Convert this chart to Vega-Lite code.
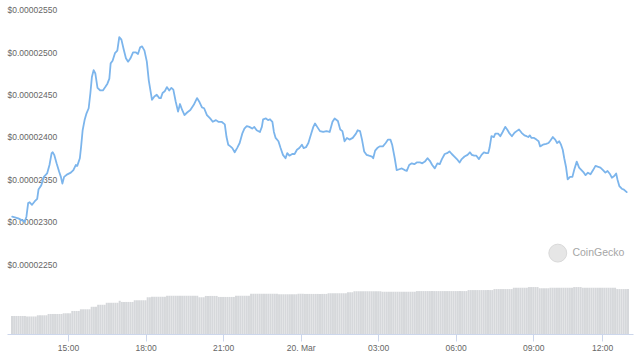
{
  "$schema": "https://vega.github.io/schema/vega-lite/v6.json",
  "width": 626,
  "height": 334,
  "autosize": "none",
  "padding": {"left": 7, "right": 7, "top": 0, "bottom": 26},
  "background": "#ffffff",
  "config": {
    "view": {"stroke": null},
    "font": "Liberation Sans",
    "axisX": {
      "title": null,
      "grid": false,
      "domainColor": "#ccd6eb",
      "tickColor": "#ccd6eb",
      "tickSize": 7,
      "labelPadding": 2,
      "labelFontSize": 8.5,
      "labelFont": "Liberation Sans",
      "labelColor": "#666666",
      "labelFlush": false,
      "labelOverlap": false
    },
    "axisY": {
      "title": null,
      "domain": false,
      "ticks": false,
      "tickSize": 0,
      "labelAlign": "left",
      "labelBaseline": "alphabetic",
      "labelPadding": 0,
      "labelOffset": -3,
      "labelFontSize": 8.5,
      "labelFont": "Liberation Sans",
      "labelColor": "#666666",
      "labelOverlap": false,
      "gridColor": "#ebebeb",
      "gridWidth": 1
    }
  },
  "datasets": {
    "vol": [
      {"n":0,"v":10.8},{"n":1,"v":10.8},{"n":2,"v":10.8},{"n":3,"v":10.8},{"n":4,"v":10.8},{"n":5,"v":10.8},{"n":6,"v":10.8},
      {"n":7,"v":10.5},{"n":8,"v":10.5},{"n":9,"v":10.5},{"n":10,"v":10.5},{"n":11,"v":10.5},
      {"n":12,"v":11.2},{"n":13,"v":11.2},{"n":14,"v":11.2},{"n":15,"v":11.2},{"n":16,"v":11.2},
      {"n":17,"v":12.0},{"n":18,"v":12.0},{"n":19,"v":12.0},{"n":20,"v":12.0},{"n":21,"v":12.0},{"n":22,"v":12.0},{"n":23,"v":12.0},
      {"n":24,"v":12.4},{"n":25,"v":12.4},{"n":26,"v":12.4},{"n":27,"v":12.4},
      {"n":28,"v":13.8},{"n":29,"v":13.8},{"n":30,"v":13.8},{"n":31,"v":13.8},
      {"n":32,"v":14.8},{"n":33,"v":14.8},{"n":34,"v":14.8},{"n":35,"v":14.8},{"n":36,"v":14.8},
      {"n":37,"v":16.3},{"n":38,"v":16.3},{"n":39,"v":16.3},
      {"n":40,"v":17.5},{"n":41,"v":17.5},{"n":42,"v":17.5},{"n":43,"v":17.5},
      {"n":44,"v":18.7},{"n":45,"v":18.7},{"n":46,"v":18.7},{"n":47,"v":18.7},{"n":48,"v":18.7},{"n":49,"v":18.7},
      {"n":50,"v":19.9},
      {"n":51,"v":19.2},{"n":52,"v":19.2},{"n":53,"v":19.2},{"n":54,"v":19.2},{"n":55,"v":19.2},{"n":56,"v":19.2},
      {"n":57,"v":20.2},{"n":58,"v":20.2},{"n":59,"v":20.2},{"n":60,"v":20.2},{"n":61,"v":20.2},{"n":62,"v":20.2},
      {"n":63,"v":22.0},{"n":64,"v":22.0},
      {"n":65,"v":22.3},{"n":66,"v":22.3},{"n":67,"v":22.3},{"n":68,"v":22.3},{"n":69,"v":22.3},{"n":70,"v":22.3},{"n":71,"v":22.3},
      {"n":72,"v":22.9},{"n":73,"v":22.9},{"n":74,"v":22.9},{"n":75,"v":22.9},{"n":76,"v":22.9},{"n":77,"v":22.9},{"n":78,"v":22.9},{"n":79,"v":22.9},{"n":80,"v":22.9},{"n":81,"v":22.9},{"n":82,"v":22.9},{"n":83,"v":22.9},{"n":84,"v":22.9},{"n":85,"v":22.9},{"n":86,"v":22.9},
      {"n":87,"v":22.0},{"n":88,"v":22.0},{"n":89,"v":22.0},
      {"n":90,"v":22.8},{"n":91,"v":22.8},{"n":92,"v":22.8},{"n":93,"v":22.8},{"n":94,"v":22.8},{"n":95,"v":22.8},
      {"n":96,"v":22.2},{"n":97,"v":22.2},{"n":98,"v":22.2},{"n":99,"v":22.2},{"n":100,"v":22.2},{"n":101,"v":22.2},{"n":102,"v":22.2},{"n":103,"v":22.2},
      {"n":104,"v":22.9},{"n":105,"v":22.9},{"n":106,"v":22.9},{"n":107,"v":22.9},{"n":108,"v":22.9},{"n":109,"v":22.9},{"n":110,"v":22.9},
      {"n":111,"v":24.1},{"n":112,"v":24.1},{"n":113,"v":24.1},{"n":114,"v":24.1},{"n":115,"v":24.1},{"n":116,"v":24.1},{"n":117,"v":24.1},{"n":118,"v":24.1},{"n":119,"v":24.1},{"n":120,"v":24.1},{"n":121,"v":24.1},{"n":122,"v":24.1},{"n":123,"v":24.1},
      {"n":124,"v":23.8},{"n":125,"v":23.8},{"n":126,"v":23.8},{"n":127,"v":23.8},{"n":128,"v":23.8},{"n":129,"v":23.8},{"n":130,"v":23.8},{"n":131,"v":23.8},{"n":132,"v":23.8},
      {"n":133,"v":24.1},{"n":134,"v":24.1},{"n":135,"v":24.1},
      {"n":136,"v":24.0},{"n":137,"v":24.0},{"n":138,"v":24.0},{"n":139,"v":24.0},{"n":140,"v":24.0},{"n":141,"v":24.0},{"n":142,"v":24.0},{"n":143,"v":24.0},{"n":144,"v":24.0},{"n":145,"v":24.0},{"n":146,"v":24.0},
      {"n":147,"v":24.4},{"n":148,"v":24.4},{"n":149,"v":24.4},{"n":150,"v":24.4},{"n":151,"v":24.4},{"n":152,"v":24.4},{"n":153,"v":24.4},{"n":154,"v":24.4},{"n":155,"v":24.4},
      {"n":156,"v":25.0},{"n":157,"v":25.0},{"n":158,"v":25.0},
      {"n":159,"v":25.6},{"n":160,"v":25.6},{"n":161,"v":25.6},{"n":162,"v":25.6},{"n":163,"v":25.6},{"n":164,"v":25.6},{"n":165,"v":25.6},{"n":166,"v":25.6},{"n":167,"v":25.6},{"n":168,"v":25.6},{"n":169,"v":25.6},{"n":170,"v":25.6},{"n":171,"v":25.6},
      {"n":172,"v":25.3},{"n":173,"v":25.3},{"n":174,"v":25.3},{"n":175,"v":25.3},{"n":176,"v":25.3},{"n":177,"v":25.3},{"n":178,"v":25.3},{"n":179,"v":25.3},{"n":180,"v":25.3},{"n":181,"v":25.3},{"n":182,"v":25.3},{"n":183,"v":25.3},{"n":184,"v":25.3},{"n":185,"v":25.3},{"n":186,"v":25.3},{"n":187,"v":25.3},
      {"n":188,"v":25.7},{"n":189,"v":25.7},{"n":190,"v":25.7},{"n":191,"v":25.7},{"n":192,"v":25.7},{"n":193,"v":25.7},{"n":194,"v":25.7},{"n":195,"v":25.7},{"n":196,"v":25.7},{"n":197,"v":25.7},{"n":198,"v":25.7},{"n":199,"v":25.7},{"n":200,"v":25.7},{"n":201,"v":25.7},{"n":202,"v":25.7},{"n":203,"v":25.7},{"n":204,"v":25.7},{"n":205,"v":25.7},{"n":206,"v":25.7},{"n":207,"v":25.7},{"n":208,"v":25.7},{"n":209,"v":25.7},{"n":210,"v":25.7},{"n":211,"v":25.7},
      {"n":212,"v":26.3},{"n":213,"v":26.3},{"n":214,"v":26.3},{"n":215,"v":26.3},{"n":216,"v":26.3},{"n":217,"v":26.3},{"n":218,"v":26.3},{"n":219,"v":26.3},{"n":220,"v":26.3},{"n":221,"v":26.3},{"n":222,"v":26.3},{"n":223,"v":26.3},
      {"n":224,"v":26.9},{"n":225,"v":26.9},{"n":226,"v":26.9},{"n":227,"v":26.9},{"n":228,"v":26.9},{"n":229,"v":26.9},{"n":230,"v":26.9},{"n":231,"v":26.9},{"n":232,"v":26.9},
      {"n":233,"v":27.7},{"n":234,"v":27.7},{"n":235,"v":27.7},{"n":236,"v":27.7},{"n":237,"v":27.7},{"n":238,"v":27.7},{"n":239,"v":27.7},
      {"n":240,"v":28.1},{"n":241,"v":28.1},{"n":242,"v":28.1},{"n":243,"v":28.1},{"n":244,"v":28.1},
      {"n":245,"v":27.4},{"n":246,"v":27.4},{"n":247,"v":27.4},{"n":248,"v":27.4},{"n":249,"v":27.4},
      {"n":250,"v":27.7},{"n":251,"v":27.7},{"n":252,"v":27.7},{"n":253,"v":27.7},{"n":254,"v":27.7},{"n":255,"v":27.7},{"n":256,"v":27.7},{"n":257,"v":27.7},{"n":258,"v":27.7},{"n":259,"v":27.7},{"n":260,"v":27.7},
      {"n":261,"v":28.1},{"n":262,"v":28.1},{"n":263,"v":28.1},{"n":264,"v":28.1},
      {"n":265,"v":27.7},{"n":266,"v":27.7},{"n":267,"v":27.7},{"n":268,"v":27.7},{"n":269,"v":27.7},{"n":270,"v":27.7},{"n":271,"v":27.7},{"n":272,"v":27.7},{"n":273,"v":27.7},{"n":274,"v":27.7},{"n":275,"v":27.7},{"n":276,"v":27.7},{"n":277,"v":27.7},{"n":278,"v":27.7},{"n":279,"v":27.7},{"n":280,"v":27.7},
      {"n":281,"v":26.9},{"n":282,"v":26.9},{"n":283,"v":26.9},{"n":284,"v":26.9},{"n":285,"v":26.9},{"n":286,"v":26.9}
    ],
    "price": [
      {"n":0.1,"p":0.00002313},{"n":2.9,"p":0.00002311},{"n":5.2,"p":0.00002308},{"n":5.9,"p":0.00002307},{"n":6.7,"p":0.00002313},
      {"n":7.5,"p":0.00002329},{"n":8.2,"p":0.0000233},{"n":9.3,"p":0.00002327},{"n":10.5,"p":0.00002331},{"n":11.7,"p":0.00002334},
      {"n":12.3,"p":0.00002345},{"n":13.6,"p":0.0000235},{"n":14.8,"p":0.0000236},{"n":16.3,"p":0.00002364},{"n":17.4,"p":0.00002374},
      {"n":18.4,"p":0.00002388},{"n":18.9,"p":0.00002389},{"n":19.6,"p":0.00002386},{"n":20.7,"p":0.00002376},{"n":21.9,"p":0.00002366},
      {"n":22.7,"p":0.0000236},{"n":23.4,"p":0.00002352},{"n":24.2,"p":0.0000236},{"n":25.7,"p":0.00002363},{"n":27.3,"p":0.00002365},
      {"n":28.5,"p":0.00002368},{"n":29.6,"p":0.00002374},{"n":30.3,"p":0.00002373},{"n":31.5,"p":0.00002382},{"n":32.1,"p":0.00002396},
      {"n":32.8,"p":0.00002415},{"n":33.7,"p":0.00002427},{"n":34.6,"p":0.00002435},{"n":35.6,"p":0.00002441},{"n":36.4,"p":0.00002459},
      {"n":37.1,"p":0.00002478},{"n":37.9,"p":0.00002486},{"n":38.7,"p":0.00002482},{"n":39.7,"p":0.00002465},{"n":41.0,"p":0.00002462},
      {"n":42.2,"p":0.00002462},{"n":43.3,"p":0.00002466},{"n":44.3,"p":0.0000247},{"n":45.2,"p":0.00002476},{"n":45.8,"p":0.00002494},
      {"n":46.7,"p":0.00002497},{"n":47.8,"p":0.00002506},{"n":48.9,"p":0.00002509},{"n":49.8,"p":0.00002525},{"n":50.8,"p":0.00002522},
      {"n":51.9,"p":0.0000251},{"n":52.9,"p":0.000025},{"n":53.9,"p":0.00002496},{"n":55.0,"p":0.000025},{"n":56.2,"p":0.00002507},
      {"n":57.4,"p":0.00002507},{"n":58.5,"p":0.00002505},{"n":59.5,"p":0.00002513},{"n":60.4,"p":0.00002514},{"n":61.5,"p":0.00002509},
      {"n":62.6,"p":0.00002496},{"n":63.5,"p":0.00002474},{"n":65.0,"p":0.00002451},{"n":66.1,"p":0.00002455},{"n":67.2,"p":0.00002457},
      {"n":68.4,"p":0.00002453},{"n":69.1,"p":0.00002453},{"n":69.9,"p":0.00002459},{"n":70.9,"p":0.00002461},{"n":71.9,"p":0.00002466},
      {"n":73.0,"p":0.00002462},{"n":74.0,"p":0.00002465},{"n":74.9,"p":0.00002463},{"n":76.0,"p":0.00002449},{"n":77.1,"p":0.00002437},
      {"n":78.0,"p":0.00002446},{"n":79.0,"p":0.00002439},{"n":80.1,"p":0.00002433},{"n":81.3,"p":0.00002436},{"n":82.8,"p":0.00002439},
      {"n":84.4,"p":0.00002445},{"n":85.9,"p":0.00002453},{"n":87.1,"p":0.00002448},{"n":88.2,"p":0.00002442},{"n":89.2,"p":0.00002441},
      {"n":90.5,"p":0.00002433},{"n":92.0,"p":0.00002429},{"n":93.2,"p":0.00002425},{"n":94.7,"p":0.00002427},{"n":95.8,"p":0.00002425},
      {"n":97.3,"p":0.00002425},{"n":98.8,"p":0.00002422},{"n":99.6,"p":0.00002407},{"n":100.4,"p":0.00002398},{"n":101.4,"p":0.00002396},
      {"n":102.3,"p":0.00002394},{"n":103.4,"p":0.00002389},{"n":104.5,"p":0.00002394},{"n":105.7,"p":0.000024},{"n":106.9,"p":0.00002411},
      {"n":107.9,"p":0.00002417},{"n":109.0,"p":0.0000242},{"n":110.2,"p":0.00002419},{"n":111.5,"p":0.00002417},{"n":112.5,"p":0.00002419},
      {"n":113.6,"p":0.00002415},{"n":115.1,"p":0.00002413},{"n":116.0,"p":0.00002419},{"n":116.6,"p":0.00002428},{"n":117.9,"p":0.00002429},
      {"n":118.9,"p":0.00002427},{"n":119.8,"p":0.00002428},{"n":120.9,"p":0.00002425},{"n":121.6,"p":0.00002413},{"n":122.4,"p":0.00002406},
      {"n":123.7,"p":0.00002402},{"n":124.7,"p":0.00002394},{"n":125.8,"p":0.00002386},{"n":127.0,"p":0.00002382},{"n":127.8,"p":0.00002388},
      {"n":128.8,"p":0.00002385},{"n":130.1,"p":0.00002387},{"n":131.2,"p":0.00002387},{"n":132.3,"p":0.00002392},{"n":133.4,"p":0.00002394},
      {"n":134.6,"p":0.00002398},{"n":135.4,"p":0.00002394},{"n":136.5,"p":0.00002395},{"n":137.6,"p":0.000024},{"n":138.9,"p":0.00002411},
      {"n":139.9,"p":0.00002419},{"n":140.7,"p":0.00002423},{"n":141.7,"p":0.00002419},{"n":143.0,"p":0.00002414},{"n":144.5,"p":0.00002413},
      {"n":146.0,"p":0.00002414},{"n":147.5,"p":0.00002413},{"n":148.8,"p":0.00002425},{"n":149.8,"p":0.00002429},{"n":151.3,"p":0.00002426},
      {"n":152.4,"p":0.00002416},{"n":153.4,"p":0.00002414},{"n":154.4,"p":0.00002402},{"n":155.5,"p":0.00002406},{"n":156.7,"p":0.00002404},
      {"n":158.2,"p":0.00002406},{"n":159.7,"p":0.00002411},{"n":160.5,"p":0.00002415},{"n":161.6,"p":0.00002414},{"n":162.5,"p":0.00002404},
      {"n":163.5,"p":0.0000239},{"n":164.6,"p":0.00002386},{"n":165.8,"p":0.00002385},{"n":167.1,"p":0.00002384},{"n":167.7,"p":0.00002382},
      {"n":168.6,"p":0.00002391},{"n":169.6,"p":0.00002394},{"n":170.7,"p":0.00002396},{"n":172.2,"p":0.00002396},{"n":173.5,"p":0.000024},
      {"n":174.6,"p":0.00002404},{"n":175.7,"p":0.00002404},{"n":176.5,"p":0.00002398},{"n":177.7,"p":0.00002382},{"n":178.6,"p":0.00002368},
      {"n":179.8,"p":0.00002369},{"n":181.0,"p":0.0000237},{"n":182.3,"p":0.00002368},{"n":183.3,"p":0.00002367},{"n":184.4,"p":0.00002374},
      {"n":185.6,"p":0.00002376},{"n":186.8,"p":0.00002375},{"n":187.9,"p":0.00002377},{"n":189.4,"p":0.00002377},{"n":190.5,"p":0.00002376},
      {"n":191.7,"p":0.00002378},{"n":192.9,"p":0.00002382},{"n":194.0,"p":0.00002379},{"n":195.1,"p":0.00002374},{"n":196.3,"p":0.0000237},
      {"n":197.5,"p":0.00002376},{"n":198.6,"p":0.00002375},{"n":199.6,"p":0.00002381},{"n":200.9,"p":0.00002387},{"n":202.0,"p":0.00002388},
      {"n":203.1,"p":0.0000239},{"n":204.2,"p":0.00002387},{"n":205.4,"p":0.00002384},{"n":206.9,"p":0.0000238},{"n":207.8,"p":0.00002377},
      {"n":208.8,"p":0.00002381},{"n":210.1,"p":0.00002384},{"n":211.5,"p":0.00002386},{"n":212.6,"p":0.00002389},{"n":213.5,"p":0.00002386},
      {"n":214.6,"p":0.00002385},{"n":215.6,"p":0.00002385},{"n":216.8,"p":0.00002381},{"n":218.0,"p":0.00002386},{"n":219.1,"p":0.00002389},
      {"n":220.2,"p":0.00002388},{"n":221.1,"p":0.00002388},{"n":221.7,"p":0.00002394},{"n":222.6,"p":0.00002408},{"n":223.7,"p":0.00002407},
      {"n":224.4,"p":0.00002411},{"n":225.7,"p":0.00002411},{"n":226.7,"p":0.00002408},{"n":227.8,"p":0.00002413},{"n":229.0,"p":0.00002419},
      {"n":229.9,"p":0.00002416},{"n":230.8,"p":0.00002412},{"n":232.1,"p":0.00002408},{"n":233.3,"p":0.00002412},{"n":234.3,"p":0.00002414},
      {"n":235.4,"p":0.00002416},{"n":236.6,"p":0.00002412},{"n":237.9,"p":0.00002409},{"n":238.9,"p":0.00002408},{"n":239.7,"p":0.00002407},
      {"n":240.4,"p":0.00002409},{"n":241.2,"p":0.00002406},{"n":242.4,"p":0.00002406},{"n":243.5,"p":0.00002404},{"n":244.5,"p":0.00002402},
      {"n":245.2,"p":0.00002396},{"n":246.5,"p":0.00002398},{"n":248.0,"p":0.00002399},{"n":249.1,"p":0.000024},{"n":250.0,"p":0.00002403},
      {"n":251.1,"p":0.00002407},{"n":252.2,"p":0.00002404},{"n":253.1,"p":0.000024},{"n":254.1,"p":0.00002402},{"n":254.9,"p":0.00002398},
      {"n":255.7,"p":0.00002392},{"n":256.4,"p":0.00002382},{"n":257.2,"p":0.00002372},{"n":258.0,"p":0.00002357},{"n":259.1,"p":0.0000236},
      {"n":260.2,"p":0.0000236},{"n":261.0,"p":0.00002368},{"n":262.2,"p":0.00002378},{"n":263.3,"p":0.00002371},{"n":264.4,"p":0.00002368},
      {"n":265.5,"p":0.00002365},{"n":266.3,"p":0.00002362},{"n":267.4,"p":0.00002365},{"n":268.6,"p":0.00002363},{"n":269.8,"p":0.00002368},
      {"n":270.9,"p":0.00002373},{"n":271.9,"p":0.00002372},{"n":273.2,"p":0.00002371},{"n":274.4,"p":0.00002368},{"n":275.5,"p":0.00002365},
      {"n":276.5,"p":0.00002367},{"n":277.7,"p":0.00002363},{"n":278.5,"p":0.00002359},{"n":279.6,"p":0.00002361},{"n":280.5,"p":0.00002364},
      {"n":281.1,"p":0.00002357},{"n":282.0,"p":0.00002349},{"n":283.1,"p":0.00002346},{"n":284.1,"p":0.00002345},{"n":285.4,"p":0.00002342}
    ],
    "brand": [
      {"n": 253.4, "nt": 260.2, "p": 0.0000227, "name": "CoinGecko"}
    ]
  },
  "layer": [
    {
      "data": {"name": "vol"},
      "mark": {"type": "bar", "width": 2, "color": "#d6d8db"},
      "encoding": {
        "x": {"field": "n", "type": "quantitative", "scale": {"domain": [0, 286], "nice": false, "zero": false},
          "axis": {"values": [26, 62, 98, 134, 170, 206, 242, 274], "labelExpr": "datum.value == 26 ? '15:00' : datum.value == 62 ? '18:00' : datum.value == 98 ? '21:00' : datum.value == 134 ? '20. Mar' : datum.value == 170 ? '03:00' : datum.value == 206 ? '06:00' : datum.value == 242 ? '09:00' : '12:00'"}},
        "y": {"field": "v", "type": "quantitative", "scale": {"domain": [0, 200], "nice": false}, "axis": null}
      }
    },
    {
      "layer": [
        {
          "data": {"name": "price"},
          "mark": {"type": "line", "color": "#7cb5ec", "strokeWidth": 1.8, "strokeJoin": "round", "strokeCap": "round"},
          "encoding": {
            "x": {"field": "n", "type": "quantitative", "scale": {"domain": [0, 286], "nice": false, "zero": false},
              "axis": {"values": [26, 62, 98, 134, 170, 206, 242, 274], "labelExpr": "datum.value == 26 ? '15:00' : datum.value == 62 ? '18:00' : datum.value == 98 ? '21:00' : datum.value == 134 ? '20. Mar' : datum.value == 170 ? '03:00' : datum.value == 206 ? '06:00' : datum.value == 242 ? '09:00' : '12:00'"}},
            "y": {"field": "p", "type": "quantitative", "scale": {"domain": [0.000021745, 0.000025688], "nice": false, "zero": false},
              "axis": {"orient": "left", "values": [0.0000225, 0.000023, 0.0000235, 0.000024, 0.0000245, 0.000025, 0.0000255], "format": "$.8f"}}
          }
        },
        {
          "data": {"name": "brand"},
          "mark": {"type": "point", "shape": "circle", "filled": true, "size": 320, "color": "#e6e6e6", "stroke": "#d9d9d9", "strokeWidth": 1, "opacity": 1},
          "encoding": {
            "x": {"field": "n", "type": "quantitative", "scale": {"domain": [0, 286], "nice": false, "zero": false},
              "axis": {"values": [26, 62, 98, 134, 170, 206, 242, 274], "labelExpr": "datum.value == 26 ? '15:00' : datum.value == 62 ? '18:00' : datum.value == 98 ? '21:00' : datum.value == 134 ? '20. Mar' : datum.value == 170 ? '03:00' : datum.value == 206 ? '06:00' : datum.value == 242 ? '09:00' : '12:00'"}},
            "y": {"field": "p", "type": "quantitative", "scale": {"domain": [0.000021745, 0.000025688], "nice": false, "zero": false},
              "axis": {"orient": "left", "values": [0.0000225, 0.000023, 0.0000235, 0.000024, 0.0000245, 0.000025, 0.0000255], "format": "$.8f"}}
          }
        },
        {
          "data": {"name": "brand"},
          "mark": {"type": "text", "align": "left", "baseline": "middle", "fontSize": 10.5, "font": "Liberation Sans", "color": "#a6a6a6"},
          "encoding": {
            "x": {"field": "nt", "type": "quantitative", "scale": {"domain": [0, 286], "nice": false, "zero": false},
              "axis": {"values": [26, 62, 98, 134, 170, 206, 242, 274], "labelExpr": "datum.value == 26 ? '15:00' : datum.value == 62 ? '18:00' : datum.value == 98 ? '21:00' : datum.value == 134 ? '20. Mar' : datum.value == 170 ? '03:00' : datum.value == 206 ? '06:00' : datum.value == 242 ? '09:00' : '12:00'"}},
            "y": {"field": "p", "type": "quantitative", "scale": {"domain": [0.000021745, 0.000025688], "nice": false, "zero": false},
              "axis": {"orient": "left", "values": [0.0000225, 0.000023, 0.0000235, 0.000024, 0.0000245, 0.000025, 0.0000255], "format": "$.8f"}},
            "text": {"field": "name"}
          }
        }
      ]
    }
  ],
  "resolve": {"scale": {"y": "independent"}}
}
